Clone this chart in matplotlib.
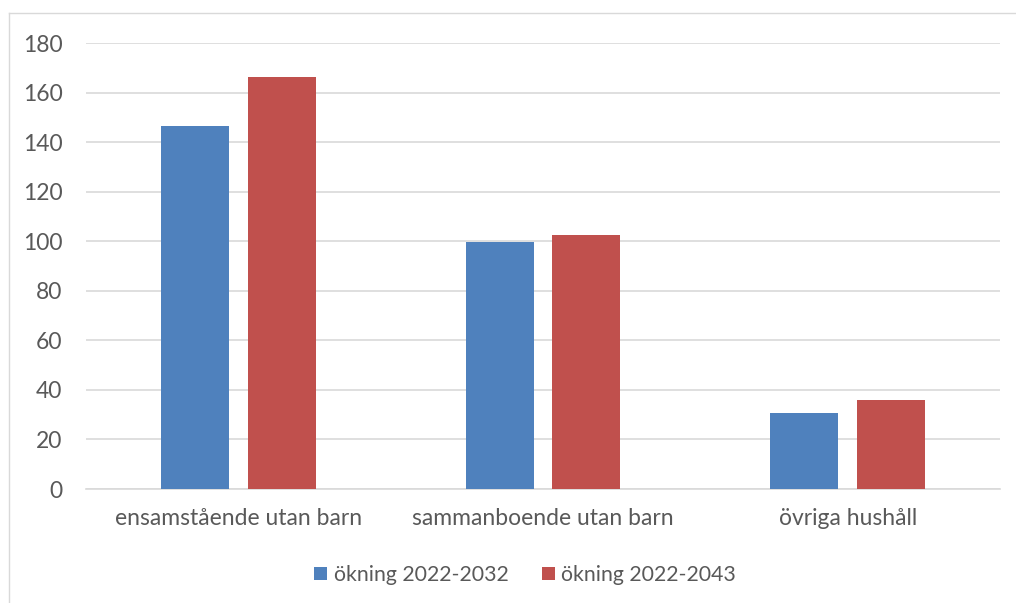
import matplotlib.pyplot as plt
import numpy as np
from matplotlib.lines import Line2D

categories = ["ensamstående utan barn", "sammanboende utan barn", "övriga hushåll"]
okning_2032 = [146.4, 99.6, 30.6]
okning_2043 = [166.3, 102.4, 36.0]
series_labels = ["ökning 2022-2032", "ökning 2022-2043"]
y_ticks = [0, 20, 40, 60, 80, 100, 120, 140, 160, 180]

BLUE = "#4F81BD"
RED = "#C0504D"
TEXT = "#595959"
GRID = "#D9D9D9"

plt.rcParams['font.family'] = ['Lato', 'DejaVu Sans']

fig = plt.figure(figsize=(10.16, 6.03), dpi=100)
ax = fig.add_axes([86 / 1016, 1 - 489 / 603, (1000 - 86) / 1016, (489 - 43) / 603])

x = np.arange(len(categories))
width = 0.223
offset = 0.142
ax.bar(x - offset, okning_2032, width, color=BLUE, label=series_labels[0], zorder=3)
ax.bar(x + offset, okning_2043, width, color=RED, label=series_labels[1], zorder=3)

ax.set_xlim(-0.5, 2.5)
ax.set_ylim(0, 180)
ax.set_yticks(y_ticks)
ax.set_xticks(x)
ax.set_xticklabels(categories)
ax.yaxis.grid(True, color=GRID, linewidth=1.2, zorder=0)
ax.tick_params(axis='both', length=0, labelsize=16.5, labelcolor=TEXT)
ax.tick_params(axis='y', pad=17)
ax.tick_params(axis='x', pad=14)
for side in ["top", "right", "left"]:
    ax.spines[side].set_visible(False)
ax.spines["bottom"].set_color(GRID)
ax.spines["bottom"].set_linewidth(1.2)

# outer chart frame (top and left edges)
fig.add_artist(Line2D([9 / 1016, 1.0], [1 - 13 / 603, 1 - 13 / 603],
                      transform=fig.transFigure, color=GRID, linewidth=1))
fig.add_artist(Line2D([9 / 1016, 9 / 1016], [0, 1 - 13 / 603],
                      transform=fig.transFigure, color=GRID, linewidth=1))

fig.legend(loc="center", bbox_to_anchor=(0.517, 1 - 575 / 603), ncol=2, frameon=False,
           fontsize=15.3, labelcolor=TEXT, handlelength=0.6, handleheight=0.6,
           handletextpad=0.3, columnspacing=1.6)

fig.savefig("out.png", dpi=100)
